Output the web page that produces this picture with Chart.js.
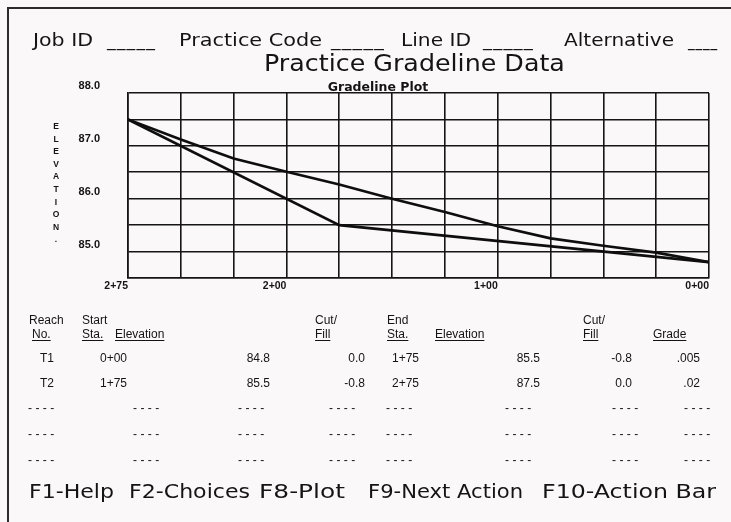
<!DOCTYPE html>
<html>
<head>
<meta charset="utf-8">
<script src="https://cdn.jsdelivr.net/npm/chart.js@4.4.1/dist/chart.umd.min.js"></script>
<style>
  html, body { margin: 0; padding: 0; background: #fbf8f9; }
  #page { position: relative; width: 731px; height: 522px; overflow: hidden; background: #fbf8f9; }
  #frameTop { position: absolute; left: 7px; top: 7px; width: 724px; height: 2px; background: #2b2b2b; }
  #frameLeft { position: absolute; left: 7px; top: 7px; width: 2px; height: 515px; background: #2b2b2b; }
  #wrap { position: absolute; left: 0; top: 0; width: 731px; height: 522px; }
  .t { position: absolute; white-space: nowrap; color: #141414; }
  .geo { font-family: "DejaVu Sans", sans-serif; font-weight: normal; }
  .tab { font-family: "Liberation Sans", Arial, sans-serif; font-size: 12px; line-height: 14px; }
  .u { text-decoration: underline; text-underline-offset: 2px; }
  .dash { letter-spacing: 3.4px; }
  #elev { position: absolute; left: 50px; top: 120px; width: 12px; text-align: center;
          font-family: "Liberation Sans", Arial, sans-serif; font-weight: bold; font-size: 8.5px; line-height: 12.6px; color: #141414; }
</style>
</head>
<body>
<div id="page">
  <div id="frameTop"></div>
  <div id="frameLeft"></div>
  <div id="wrap"><canvas id="chart"></canvas></div>
  <div id="texts"></div>
  <div id="elev"></div>
</div>
<script>
// ---------- data ----------
const groundStations = [275, 250, 225, 200, 175, 150, 125, 100, 75, 50, 25, 0];
const groundElev     = [87.5, 87.12, 86.76, 86.51, 86.27, 86.0, 85.75, 85.48, 85.25, 85.11, 84.98, 84.8];
const gradeStations  = [275, 175, 0];
const gradeElev      = [87.5, 85.5, 84.8];

const xLabelValues = [275, 200, 100, 0];
const xLabelTexts  = ['2+75', '2+00', '1+00', '0+00'];
const yLabelValues = [88, 87, 86, 85];
const yLabelTexts  = ['88.0', '87.0', '86.0', '85.0'];

const headerItems = ['Job ID', '_____', 'Practice Code', '_____', 'Line ID', '_____', 'Alternative', '____'];
const pageTitle   = 'Practice Gradeline Data';
const plotTitle   = 'Gradeline Plot';
const axisLetters = ['E', 'L', 'E', 'V', 'A', 'T', 'I', 'O', 'N', '.'];

const headRow1 = ['Reach', 'Start', 'Cut/', 'End', 'Cut/'];
const headRow2 = ['No.', 'Sta.', 'Elevation', 'Fill', 'Sta.', 'Elevation', 'Fill', 'Grade'];
const reachNo      = ['T1', 'T2'];
const startSta     = ['0+00', '1+75'];
const startElev    = ['84.8', '85.5'];
const startCutFill = ['0.0', '-0.8'];
const endSta       = ['1+75', '2+75'];
const endElev      = ['85.5', '87.5'];
const endCutFill   = ['-0.8', '0.0'];
const grade        = ['.005', '.02'];
const emptyRows    = 3;
const footerItems  = ['F1-Help', 'F2-Choices', 'F8-Plot', 'F9-Next Action', 'F10-Action Bar'];

// ---------- layout (positions only) ----------
const headerSpan = [[33, 93], [107, 156], [179, 322], [331, 385], [401, 471], [483, 534], [564, 674], [688, 718]];
const titleSpan = [264, 565];
const footerSpan = [[29, 114], [129, 250], [259, 345], [368, 523], [542, 716]];
const head1X = [29, 82, 315, 387, 583];
const head2X = [32, 82, 115, 315, 387, 435, 583, 653];
const dataCols = [
  { vals: reachNo, x: 40, align: 'left' },
  { vals: startSta, x: 100, align: 'left' },
  { vals: startElev, x: 270, align: 'right' },
  { vals: startCutFill, x: 365, align: 'right' },
  { vals: endSta, x: 392, align: 'left' },
  { vals: endElev, x: 540, align: 'right' },
  { vals: endCutFill, x: 632, align: 'right' },
  { vals: grade, x: 700, align: 'right' }
];
const dashX = [28, 133, 238, 329, 386, 505, 612, 684];
const rowY = [358, 383];
const dashRowY = [408, 434, 460];

const texts = document.getElementById('texts');
function put(str, x, yc, cls, lh, align, extra) {
  const d = document.createElement('div');
  d.className = 't ' + cls;
  d.textContent = str;
  d.style.lineHeight = lh + 'px';
  d.style.top = (yc - lh / 2) + 'px';
  if (align === 'right') d.style.right = (731 - x) + 'px';
  else if (align === 'center') { d.style.left = x + 'px'; d.style.transform = 'translateX(-50%)'; }
  else d.style.left = x + 'px';
  if (extra) Object.assign(d.style, extra);
  texts.appendChild(d);
  return d;
}
function fitWidth(el, span) {
  const w = el.getBoundingClientRect().width;
  el.style.transformOrigin = 'left center';
  el.style.transform = 'scaleX(' + ((span[1] - span[0]) / w).toFixed(3) + ')';
}
headerItems.forEach((s, i) => {
  const el = put(s, headerSpan[i][0], 40, 'geo', 22, 'left', { fontSize: '18.5px', letterSpacing: s.startsWith('_') ? '1.2px' : '0px' });
  fitWidth(el, headerSpan[i]);
});
fitWidth(put(pageTitle, titleSpan[0], 63, 'geo', 26, 'left', { fontSize: '23px' }), titleSpan);
put(plotTitle, 378, 86.5, 'geo', 13, 'center', { fontSize: '12.5px', fontWeight: 'bold' });
headRow1.forEach((s, i) => put(s, head1X[i], 320, 'tab', 14, 'left'));
headRow2.forEach((s, i) => put(s, head2X[i], 334, 'tab u', 14, 'left'));
dataCols.forEach(c => c.vals.forEach((v, r) => put(v, c.x, rowY[r], 'tab', 14, c.align)));
for (let r = 0; r < emptyRows; r++) dashX.forEach(x => put('----', x, dashRowY[r], 'tab dash', 14, 'left'));
footerItems.forEach((s, i) => {
  const el = put(s, footerSpan[i][0], 491, 'geo', 22, 'left', { fontSize: '19px' });
  fitWidth(el, footerSpan[i]);
});
document.getElementById('elev').innerHTML = axisLetters.join('<br>');

// ---------- chart ----------
const groundPts = groundStations.map((s, i) => ({ x: s, y: groundElev[i] }));
const gradePts = gradeStations.map((s, i) => ({ x: s, y: gradeElev[i] }));
const near = (a, b) => Math.abs(a - b) < 1e-6;

new Chart(document.getElementById('chart'), {
  type: 'line',
  data: {
    datasets: [
      { label: 'Ground', data: groundPts, borderColor: '#0e0e0e', borderWidth: 2.6, pointRadius: 0, tension: 0, fill: false },
      { label: 'Gradeline', data: gradePts, borderColor: '#0e0e0e', borderWidth: 2.6, pointRadius: 0, tension: 0, fill: false }
    ]
  },
  options: {
    responsive: true,
    maintainAspectRatio: false,
    animation: false,
    layout: { padding: { left: 0, right: 22, top: 93, bottom: 214 } },
    plugins: { legend: { display: false }, tooltip: { enabled: false }, title: { display: false } },
    scales: {
      x: {
        type: 'linear', reverse: true, min: 0, max: 275,
        grid: { color: '#151515', lineWidth: 1.6, drawTicks: false },
        border: { display: true, color: '#151515', width: 1.6 },
        ticks: {
          stepSize: 25, autoSkip: false, maxRotation: 0, minRotation: 0, align: 'end', padding: 2,
          color: '#141414', font: { family: 'Liberation Sans', size: 10.5, weight: 'bold' },
          callback: v => { const i = xLabelValues.findIndex(a => near(a, v)); return i >= 0 ? xLabelTexts[i] : ''; }
        },
        afterFit: s => { s.height = 30; }
      },
      y: {
        type: 'linear', min: 84.5, max: 88,
        grid: { color: '#151515', lineWidth: 1.6, drawTicks: false },
        border: { display: true, color: '#151515', width: 1.6 },
        ticks: {
          stepSize: 0.5, autoSkip: false, padding: 28, labelOffset: -7,
          color: '#141414', font: { family: 'Liberation Sans', size: 11, weight: 'bold' },
          callback: v => { const i = yLabelValues.findIndex(a => near(a, v)); return i >= 0 ? yLabelTexts[i] : ''; }
        },
        afterFit: s => { s.width = 128; }
      }
    }
  }
});
</script>
</body>
</html>
